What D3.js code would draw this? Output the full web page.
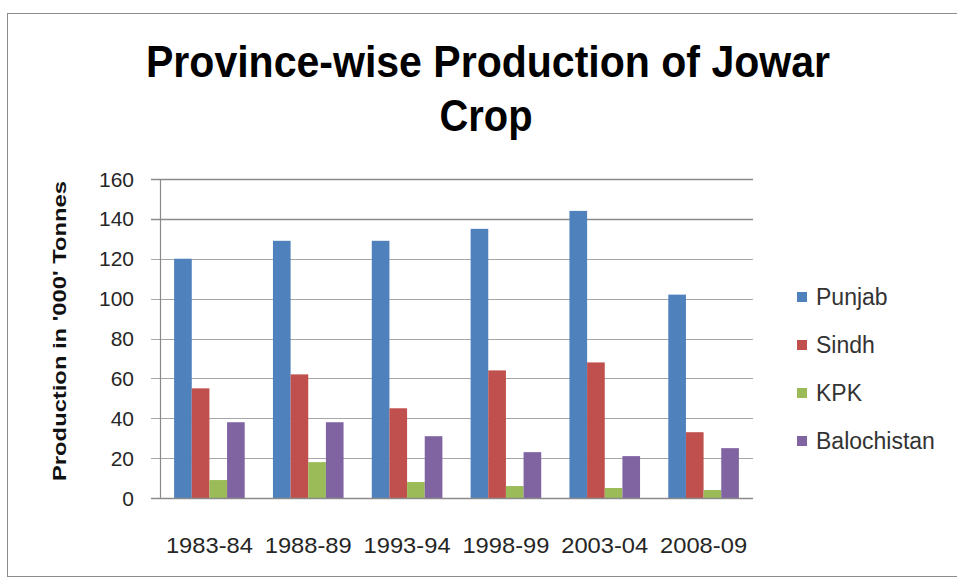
<!DOCTYPE html>
<html><head><meta charset="utf-8">
<script src="https://cdn.jsdelivr.net/npm/d3@7"></script>
<style>body{margin:0;background:#fff}svg{display:block}text{font-family:"Liberation Sans",Arial,sans-serif}</style>
</head><body><svg id="c" width="957" height="579"></svg>
<script>
const categories = ["1983-84","1988-89","1993-94","1998-99","2003-04","2008-09"];
const seriesNames = ["Punjab","Sindh","KPK","Balochistan"];
const punjab = [120,129,129,135,144,102];
const sindh = [55,62,45,64,68,33];
const kpk = [9,18,8,6,5,4];
const balochistan = [38,38,31,23,21,25];
const yTicks = [0,20,40,60,80,100,120,140,160];
const colors = ["#4F81BD","#C0504D","#9BBB59","#8064A2"];
const values = [punjab,sindh,kpk,balochistan];

const svg = d3.select("#c");
svg.append("rect").attr("x",7.5).attr("y",13.5).attr("width",960).attr("height",563).attr("fill","#fff").attr("stroke","#8c8c8c");

const L=160,R=753,T=179,B=498;
const x = d3.scaleBand().domain(categories).range([L,R]).paddingInner(0.2857).paddingOuter(0.1428);
const x1 = d3.scaleBand().domain(seriesNames).range([0,x.bandwidth()]);
const y = d3.scaleLinear().domain([0,160]).range([B,T]);

// gridlines
svg.append("g").selectAll("line").data(yTicks).join("line")
 .attr("x1",L-9).attr("x2",R).attr("y1",d=>Math.round(y(d))+0.5).attr("y2",d=>Math.round(y(d))+0.5)
 .attr("stroke",d=>d>=140?"#8a8a8a":"#a6a6a6").attr("stroke-width",d=>d>=140?1.5:1.2);

// bars
const g = svg.append("g");
seriesNames.forEach((s,si)=>{
  g.selectAll(null).data(categories).join("rect")
   .attr("x",c=>x(c)+x1(s)).attr("width",x1.bandwidth())
   .attr("y",(c,i)=>y(values[si][i])).attr("height",(c,i)=>B-y(values[si][i]))
   .attr("fill",colors[si]);
});

// axis lines
svg.append("line").attr("x1",L+0.5).attr("x2",L+0.5).attr("y1",T).attr("y2",B).attr("stroke","#8a8a8a").attr("stroke-width",1.2);
svg.append("line").attr("x1",L-9).attr("x2",R).attr("y1",B+0.5).attr("y2",B+0.5).attr("stroke","#8a8a8a").attr("stroke-width",1.5);

// y labels
svg.append("g").selectAll("text").data(yTicks).join("text")
 .attr("x",134).attr("y",d=>y(d)).attr("dy","0.36em").attr("text-anchor","end")
 .attr("font-size",21).attr("fill","#262626").text(d=>d);

// x labels
svg.append("g").selectAll("text").data(categories).join("text")
 .attr("x",c=>x(c)+x.bandwidth()/2).attr("y",553).attr("text-anchor","middle")
 .attr("font-size",22).attr("fill","#262626")
 .attr("textLength",87).attr("lengthAdjust","spacingAndGlyphs").text(c=>c);

// y title
svg.append("text").attr("transform","translate(66,331) rotate(-90)").attr("text-anchor","middle")
 .attr("font-size",18).attr("font-weight","bold").attr("fill","#111")
 .attr("textLength",300).attr("lengthAdjust","spacingAndGlyphs").text("Production in '000' Tonnes");

// title
svg.append("text").attr("x",488).attr("y",77).attr("text-anchor","middle").attr("font-size",45).attr("font-weight","bold").attr("fill","#000")
 .attr("textLength",684).attr("lengthAdjust","spacingAndGlyphs").text("Province-wise Production of Jowar");
svg.append("text").attr("x",486).attr("y",131).attr("text-anchor","middle").attr("font-size",45).attr("font-weight","bold").attr("fill","#000")
 .attr("textLength",93).attr("lengthAdjust","spacingAndGlyphs").text("Crop");

// legend
const leg = svg.append("g").selectAll("g").data(seriesNames).join("g")
 .attr("transform",(d,i)=>`translate(797,${297+i*48})`);
leg.append("rect").attr("x",0).attr("y",-5).attr("width",10).attr("height",10).attr("fill",(d,i)=>colors[i]);
leg.append("text").attr("x",19).attr("dy","0.36em").attr("font-size",23).attr("fill","#333").text(d=>d);
</script></body></html>
